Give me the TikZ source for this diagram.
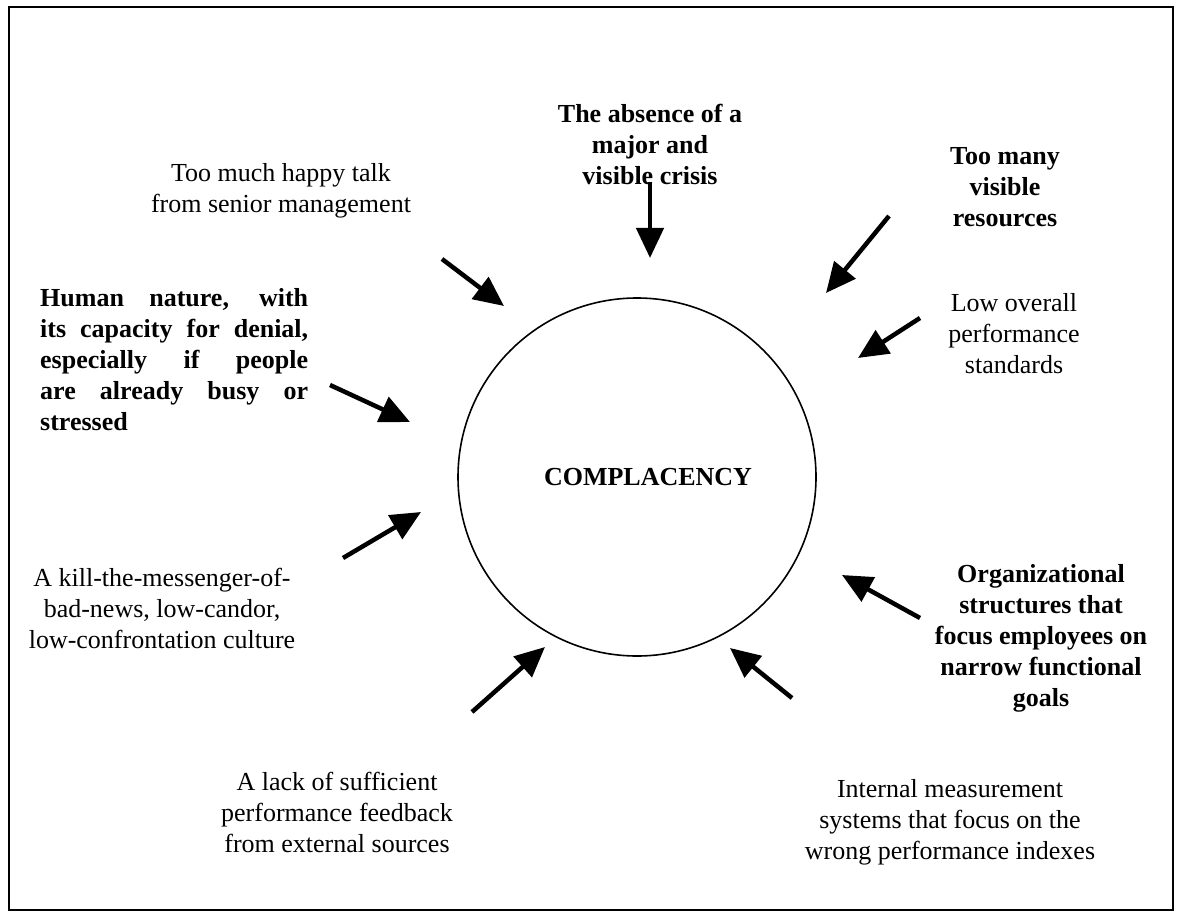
\documentclass[tikz,border=0pt]{standalone}
\usepackage{fontspec}
\setmainfont{Liberation Serif}
\usetikzlibrary{arrows.meta}
\tikzstyle{cause}=[align=center,inner sep=0pt,font=\fontsize{26}{31}\selectfont]
\tikzstyle{bcause}=[align=center,inner sep=0pt,font=\fontsize{26}{31}\selectfont\bfseries]
\tikzstyle{hub}=[circle,draw=black,line width=1.6pt,minimum size=358pt,inner sep=0pt,
  font=\fontsize{26}{31}\selectfont\bfseries]
\tikzstyle{push}=[line width=4.5pt,-{Triangle[length=30pt,width=27pt]}]
\tikzstyle{none}=[inner sep=0pt]

\begin{document}
\begin{tikzpicture}[x=1pt,y=-1pt]
            \useasboundingbox (0,0) rectangle (1201,917);
            \draw [line width=2.2pt] (9,7) rectangle (1173,910);
            \node [style=hub] (0) at (637,477) {\hspace*{22pt}COMPLACENCY};
            \node [style=bcause] (1) at (650,144) {The absence of a\\major and\\visible crisis};
            \node [style=cause] (2) at (281,191) {Too much happy talk\\from senior management};
            \node [style=bcause] (3) at (1005,187) {Too many\\visible\\resources};
            \node [style=bcause,align=justify,text width=268pt,anchor=west] (4) at (40,360)
              {Human nature, with\linebreak its capacity for denial,\linebreak especially if people\linebreak are already busy or\linebreak stressed};
            \node [style=cause] (5) at (1014,334) {Low overall\\performance\\standards};
            \node [style=cause] (6) at (162,608) {A kill-the-messenger-of-\\bad-news, low-candor,\\low-confrontation culture};
            \node [style=bcause] (7) at (1041,638) {Organizational\\structures that\\focus employees on\\narrow functional\\goals};
            \node [style=cause] (8) at (337,812) {A lack of sufficient\\performance feedback\\from external sources};
            \node [style=cause] (9) at (950,822) {Internal measurement\\systems that focus on the\\wrong performance indexes};
            \node [style=none] (10) at (650,182) {};
            \node [style=none] (11) at (650,258) {};
            \node [style=none] (12) at (442,259) {};
            \node [style=none] (13) at (504,306) {};
            \node [style=none] (14) at (889,216) {};
            \node [style=none] (15) at (826,293) {};
            \node [style=none] (16) at (330,385) {};
            \node [style=none] (17) at (410,422) {};
            \node [style=none] (18) at (920,318) {};
            \node [style=none] (19) at (858,358) {};
            \node [style=none] (20) at (343,558) {};
            \node [style=none] (21) at (421,512) {};
            \node [style=none] (22) at (920,618) {};
            \node [style=none] (23) at (842,575) {};
            \node [style=none] (24) at (472,712) {};
            \node [style=none] (25) at (545,647) {};
            \node [style=none] (26) at (792,698) {};
            \node [style=none] (27) at (730,648) {};
            \draw [style=push] (10.center) to (11.center);
            \draw [style=push] (12.center) to (13.center);
            \draw [style=push] (14.center) to (15.center);
            \draw [style=push] (16.center) to (17.center);
            \draw [style=push] (18.center) to (19.center);
            \draw [style=push] (20.center) to (21.center);
            \draw [style=push] (22.center) to (23.center);
            \draw [style=push] (24.center) to (25.center);
            \draw [style=push] (26.center) to (27.center);
\end{tikzpicture}
\end{document}
